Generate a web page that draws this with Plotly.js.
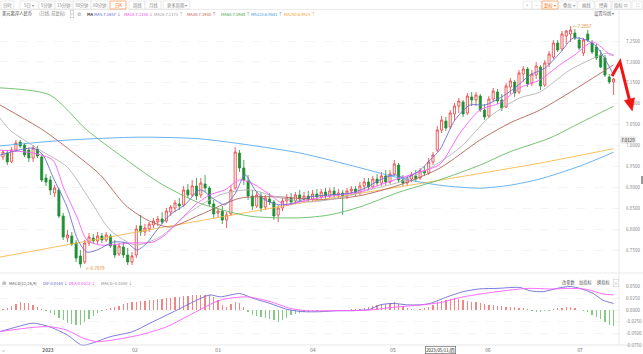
<!DOCTYPE html>
<html><head><meta charset="utf-8">
<script src="https://cdn.plot.ly/plotly-3.0.1.min.js"></script>
<style>html,body{margin:0;padding:0;background:#fff;overflow:hidden}#chart{width:643px;height:354px}</style>
</head><body><div id="chart"></div>
<script>
// ---- daily candles (USD/CNH), index 0..142 ----
const openP = [6.9725,6.9821,6.9606,6.9893,7.0084,7.0012,6.9893,6.9701,6.9917,6.9725,
6.9223,6.9175,6.8864,6.8936,6.8314,6.7787,6.7835,6.7668,6.7357,6.7213,
6.7668,6.7787,6.7716,6.7835,6.7740,6.7835,6.7620,6.7405,6.7572,6.7381,
6.7213,6.7381,6.8075,6.7931,6.8003,6.8099,6.8170,6.8242,6.8194,6.8409,
6.8505,6.8601,6.8577,6.8936,6.8816,6.9032,6.8816,6.9079,6.8984,6.8601,
6.8385,6.8433,6.8218,6.8362,6.8984,6.9821,6.9462,6.9151,6.8792,6.8553,
6.8792,6.8529,6.8720,6.8649,6.8338,6.8505,6.8673,6.8744,6.8673,6.8816,
6.8720,6.8792,6.8720,6.8840,6.8768,6.8888,6.8792,6.8912,6.8816,6.8864,
6.8792,6.8912,6.8960,6.8864,6.9032,6.9127,6.9008,6.9199,6.9103,6.9271,
6.9127,6.9318,6.9534,6.9175,6.9103,6.9199,6.9271,6.9223,6.9390,6.9342,
6.9606,6.9893,7.0371,7.0586,7.0443,7.0754,7.0945,7.1041,7.0778,7.1161,
7.1089,7.1184,7.0849,7.0706,7.1113,7.1280,7.1089,7.0921,7.1400,7.1519,
7.1280,7.1711,7.1830,7.1495,7.1687,7.1878,7.1448,7.1950,7.2117,7.2452,
7.2309,7.2620,7.2668,7.2692,7.2524,7.2213,7.2668,7.2452,7.2357,7.2165,
7.2094,7.1639,7.1519];
const highP = [6.9893,6.9893,6.9964,7.0132,7.0132,7.0060,6.9940,7.0012,6.9988,6.9773,
6.9318,6.9271,6.9056,6.8984,6.8385,6.7979,6.7931,6.7740,6.7500,6.7740,
6.7907,6.7883,6.7931,6.7907,6.7931,6.7883,6.7740,6.7668,6.7692,6.7548,
6.7452,6.8099,6.8338,6.8122,6.8170,6.8266,6.8314,6.8409,6.8505,6.8577,
6.8697,6.8744,6.9032,6.9079,6.9175,6.9223,6.9223,6.9295,6.9032,6.8697,
6.8505,6.8553,6.8409,6.9056,6.9964,6.9893,6.9654,6.9295,6.8936,6.8888,
6.8888,6.8816,6.8864,6.8697,6.8577,6.8744,6.8840,6.8864,6.8888,6.8936,
6.8888,6.8912,6.8936,6.8960,6.8960,6.8984,6.8984,6.9008,6.8960,6.8936,
6.8984,6.9032,6.9032,6.9127,6.9223,6.9223,6.9271,6.9318,6.9366,6.9414,
6.9414,6.9654,6.9582,6.9295,6.9271,6.9366,6.9414,6.9462,6.9510,6.9701,
6.9845,7.0467,7.0706,7.0682,7.0849,7.1017,7.1137,7.1089,7.1256,7.1280,
7.1280,7.1232,7.0993,7.1184,7.1376,7.1352,7.1232,7.1495,7.1615,7.1567,
7.1806,7.1902,7.1878,7.1806,7.1998,7.1926,7.2046,7.2261,7.2524,7.2524,
7.2739,7.2763,7.2857,7.2787,7.2596,7.2572,7.2763,7.2524,7.2428,7.2285,
7.2165,7.1711,7.1615];
const lowP = [6.9654,6.9534,6.9582,6.9845,6.9940,6.9725,6.9606,6.9606,6.9701,6.9127,
6.9032,6.8816,6.8768,6.8266,6.7740,6.7692,6.7596,6.7213,6.7079,6.7165,
6.7596,6.7644,6.7644,6.7668,6.7692,6.7548,6.7309,6.7357,6.7309,6.7141,
6.7141,6.7309,6.7835,6.7835,6.7931,6.8027,6.8075,6.8122,6.8146,6.8314,
6.8409,6.8457,6.8529,6.8744,6.8768,6.8697,6.8744,6.8888,6.8553,6.8266,
6.8266,6.8122,6.8027,6.8314,6.8936,6.9366,6.9056,6.8697,6.8457,6.8505,
6.8409,6.8457,6.8577,6.8218,6.8170,6.8433,6.8553,6.8577,6.8601,6.8649,
6.8625,6.8649,6.8649,6.8697,6.8697,6.8720,6.8744,6.8744,6.8720,6.8338,
6.8720,6.8816,6.8792,6.8816,6.8936,6.8936,6.8960,6.9032,6.9032,6.9056,
6.9079,6.9271,6.9103,6.9032,6.9032,6.9127,6.9127,6.9175,6.9271,6.9295,
6.9534,6.9845,7.0299,7.0347,7.0395,7.0586,7.0778,7.0682,7.0730,7.0945,
7.0945,7.0802,7.0610,7.0658,7.1041,7.0993,7.0826,7.0897,7.1232,7.1161,
7.1232,7.1519,7.1400,7.1424,7.1591,7.1328,7.1400,7.1878,7.2070,7.2237,
7.2261,7.2428,7.2476,7.2524,7.2285,7.2141,7.2476,7.2189,7.2046,7.1854,
7.1639,7.1472,7.1208];
const closeP = [6.9845,6.9606,6.9893,7.0060,6.9988,6.9773,6.9701,6.9940,6.9749,6.9175,
6.9127,6.8936,6.8984,6.8314,6.7811,6.7859,6.7644,6.7309,6.7165,6.7668,
6.7811,6.7716,6.7835,6.7740,6.7859,6.7596,6.7381,6.7596,6.7381,6.7213,
6.7357,6.8003,6.7931,6.8027,6.8122,6.8194,6.8242,6.8170,6.8433,6.8529,
6.8625,6.8553,6.8936,6.8816,6.9032,6.8792,6.9103,6.8984,6.8601,6.8362,
6.8433,6.8218,6.8338,6.8936,6.9845,6.9462,6.9175,6.8792,6.8553,6.8816,
6.8505,6.8744,6.8649,6.8314,6.8505,6.8673,6.8744,6.8649,6.8816,6.8720,
6.8792,6.8720,6.8840,6.8768,6.8888,6.8792,6.8912,6.8816,6.8864,6.8792,
6.8912,6.8960,6.8864,6.9032,6.9127,6.9008,6.9199,6.9103,6.9271,6.9127,
6.9318,6.9558,6.9175,6.9103,6.9199,6.9295,6.9199,6.9390,6.9342,6.9606,
6.9773,7.0371,7.0610,7.0419,7.0778,7.0945,7.1065,7.0754,7.1184,7.1089,
7.1208,7.0849,7.0682,7.1113,7.1304,7.1065,7.0897,7.1424,7.1543,7.1256,
7.1735,7.1830,7.1472,7.1711,7.1902,7.1424,7.1974,7.2189,7.2452,7.2285,
7.2668,7.2739,7.2763,7.2572,7.2333,7.2524,7.2524,7.2237,7.2094,7.1878,
7.1687,7.1519,7.1591];

// ---- moving averages (candle index, value) ----
const ma5X = [-0.7,7,9.3,11.6,14.9,17.4,19.5,21.9,25.6,28.8,31.2,33.5,35.8,38.8,42.3,45.8,49.3,51.6,54,56.3,58.6,60.9,64.4,67.9,71.4,76,80.7,84.2,87.7,91.2,93.5,97,99.3,101.6,105.1,108.6,112.1,115.6,119.1,122.6,126,129.5,132.6,135.8,138.1,141.2,142];
const ma5Y = [6.977,6.994,6.977,6.925,6.853,6.774,6.745,6.750,6.769,6.767,6.750,6.767,6.798,6.834,6.858,6.894,6.870,6.858,6.885,6.930,6.894,6.870,6.858,6.863,6.877,6.882,6.886,6.898,6.918,6.930,6.922,6.941,6.965,6.990,7.061,7.097,7.097,7.114,7.138,7.169,7.185,7.221,7.257,7.252,7.236,7.185,7.166];
const ma10X = [-0.7,7,11.6,14,17.2,19.5,22.6,30.2,34.9,37.7,41.2,44.7,48.1,51.6,55.1,58.6,62.1,65.6,69.1,73.7,78.4,83,87.7,92.3,97,101.6,106.3,110.9,115.6,120.2,124.9,129.5,133,137.2,141.2,142];
const ma10Y = [6.989,6.982,6.965,6.901,6.829,6.774,6.762,6.767,6.769,6.786,6.822,6.858,6.882,6.894,6.918,6.906,6.882,6.858,6.865,6.875,6.882,6.889,6.906,6.922,6.937,6.955,7.030,7.085,7.102,7.138,7.157,7.193,7.217,7.248,7.217,7.215];
const ma20X = [-0.7,1.6,8.6,14.9,20.2,24.9,30.7,36.5,43.5,50.5,57.4,64.4,71.4,78.4,85.3,92.3,99.3,106.3,113.3,120.2,124.9,131.9,140.5,142];
const ma20Y = [7.066,7.037,6.989,6.949,6.870,6.798,6.762,6.781,6.841,6.882,6.894,6.875,6.865,6.875,6.894,6.913,6.946,6.995,7.070,7.114,7.128,7.181,7.221,7.217];
const ma30X = [-0.7,9.3,15.6,22.6,28.4,33.5,38.8,45.8,55.1,64.4,73.7,83,92.3,101.6,110.9,117.9,124.9,134.2,142];
const ma30Y = [7.097,7.037,6.989,6.930,6.858,6.822,6.805,6.834,6.874,6.877,6.870,6.880,6.906,6.946,7.013,7.054,7.085,7.142,7.193];
const ma60X = [-0.7,10.9,19.5,27.2,36.5,45.8,57.4,69.1,76,83,92.3,101.6,110.9,117.9,127.2,134.2,142];
const ma60Y = [7.138,7.121,7.037,6.977,6.910,6.862,6.831,6.827,6.834,6.853,6.889,6.918,6.953,6.985,7.018,7.054,7.094];
const ma120X = [-0.7,14.9,31.9,45.8,57.4,69.1,80.7,92.3,101.6,110.9,117.9,124.9,134.2,142];
const ma120Y = [6.999,7.013,7.020,7.016,7.001,6.982,6.953,6.922,6.905,6.898,6.905,6.920,6.951,6.984];
const ma250X = [-0.7,36.5,69.1,99.3,124.9,142];
const ma250Y = [6.733,6.803,6.862,6.913,6.958,6.9925];

// ---- MACD(12,26,9) ----
const difX = [-0.7,3.2,7,10.9,14.9,18.4,20.9,24.9,30.2,34.2,40.5,43.5,48.1,50.5,55.1,58.1,62.1,66,69.8,73.7,77.7,81.4,85.3,87.7,90.7,94,97,99.3,103.3,107,110.9,114.9,120.2,122.6,125.6,128.8,131.9,134.2,137.2,139.5,142];
const difY = [-0.046,-0.036,-0.028,-0.036,-0.053,-0.075,-0.070,-0.057,-0.046,-0.028,0.000,0.014,0.032,0.028,0.035,0.025,0.014,0.0015,-0.0036,-0.0036,-0.0015,-0.0015,0.0015,0.011,0.014,0.011,0.011,0.014,0.028,0.039,0.045,0.046,0.048,0.041,0.039,0.046,0.050,0.046,0.0355,0.021,0.014];
const deaX = [-0.7,7,10.9,14.9,18.6,21.9,26.5,31.9,38.1,44.2,50.5,56.7,62.1,66.7,70.7,77.7,85.3,90.7,97,101.6,107,114.9,121.9,128,131.9,135.8,139.5,142];
const deaY = [-0.046,-0.037,-0.0356,-0.043,-0.060,-0.0675,-0.0625,-0.053,-0.0356,-0.007,0.021,0.028,0.018,0.0036,-0.0015,-0.0015,0,0.0057,0.0107,0.0156,0.028,0.039,0.046,0.0447,0.046,0.044,0.034,0.0323];
const macdHist = [0.002,0.004,0.008,0.013,0.016,0.015,0.014,0.011,0.006,0.002,
-0.002,-0.006,-0.010,-0.016,-0.022,-0.027,-0.030,-0.033,-0.031,-0.026,
-0.020,-0.013,-0.006,-0.002,0.002,0.004,0.006,0.008,0.012,0.014,
0.016,0.018,0.019,0.020,0.021,0.022,0.023,0.024,0.025,0.026,
0.027,0.028,0.029,0.030,0.031,0.032,0.032,0.033,0.031,0.028,
0.022,0.010,0.007,0.012,0.016,0.014,0.006,-0.004,-0.010,-0.013,
-0.015,-0.017,-0.019,-0.022,-0.025,-0.022,-0.016,-0.011,-0.008,-0.006,
-0.005,-0.004,-0.003,-0.002,-0.001,0.001,-0.001,0.001,0.001,-0.002,
0.001,0.002,0.002,0.003,0.004,0.006,0.008,0.010,0.012,0.013,
0.014,0.016,0.012,0.008,0.004,0.002,0.001,0.002,0.004,0.006,
0.010,0.016,0.020,0.022,0.024,0.025,0.024,0.022,0.020,0.018,
0.016,0.014,0.012,0.011,0.010,0.009,0.008,0.007,0.006,0.006,
0.005,0.004,0.003,-0.003,-0.005,-0.004,-0.003,-0.002,0.002,0.004,
0.005,0.006,0.006,0.004,0.001,-0.002,-0.005,-0.010,-0.015,-0.020,
-0.026,-0.031,-0.035];

// ---- axis labels ----
const xTickPos = [10.47,30.7,50,72.1,90.7,112.8,134.2];
const xTickText = ['<b>2023</b>','02','03','04','05','06','07'];
const priceTicks = [6.75,6.80,6.85,6.90,6.95,7.00,7.05,7.10,7.15,7.20,7.25];
const macdTicks = [-0.075,-0.05,-0.025,0,0.025,0.05];

const W=643,H=354;
const PX = x=>x/W, PY = y=>(H-y)/H;
const idx = openP.map((_,i)=>i);
const FONT = 'Noto Sans CJK SC, Noto Sans, sans-serif';

function maTrace(x,y,color){return {type:'scatter',mode:'lines',x:x,y:y,xaxis:'x',yaxis:'y',line:{color:color,width:0.9,shape:'spline',smoothing:0.7},hoverinfo:'skip'};}

const traces = [
 {type:'candlestick',x:idx,open:openP,high:highP,low:lowP,close:closeP,xaxis:'x',yaxis:'y',
  increasing:{line:{color:'#ec3a3a',width:0.8},fillcolor:'#ffffff'},
  decreasing:{line:{color:'#1f8f34',width:0.8},fillcolor:'#1f8f34'},
  whiskerwidth:0,hoverinfo:'skip'},
 maTrace(ma250X,ma250Y,'#f6b94a'),
 maTrace(ma120X,ma120Y,'#5aaaf0'),
 maTrace(ma60X,ma60Y,'#66bb66'),
 maTrace(ma30X,ma30Y,'#b5615a'),
 maTrace(ma20X,ma20Y,'#b4b4b4'),
 maTrace(ma10X,ma10Y,'#ff5cff'),
 maTrace(ma5X,ma5Y,'#6d6dd6'),
 {type:'bar',x:idx,y:macdHist,xaxis:'x2',yaxis:'y2',width:0.3,
  marker:{color:macdHist.map(v=>v>=0?'#f08585':'#86c986'),line:{width:0}},hoverinfo:'skip'},
 {type:'scatter',mode:'lines',x:difX,y:difY,xaxis:'x2',yaxis:'y2',line:{color:'#6d6dd6',width:0.9,shape:'spline',smoothing:0.7},hoverinfo:'skip'},
 {type:'scatter',mode:'lines',x:deaX,y:deaY,xaxis:'x2',yaxis:'y2',line:{color:'#ff5cff',width:0.9,shape:'spline',smoothing:0.7},hoverinfo:'skip'}
];

const shapes = [];
const annotations = [];
function line(x0,y0,x1,y1,color,w,dash){shapes.push({type:'line',xref:'paper',yref:'paper',x0:PX(x0),y0:PY(y0),x1:PX(x1),y1:PY(y1),line:{color:color,width:w||0.7,dash:dash||'solid'}});}
function rect(x0,y0,x1,y1,stroke,fill,w){shapes.push({type:'rect',xref:'paper',yref:'paper',x0:PX(x0),y0:PY(y1),x1:PX(x1),y1:PY(y0),line:{color:stroke,width:w===undefined?0.6:w},fillcolor:fill||'rgba(0,0,0,0)'});}
function txt(x,y,text,color,size,anchor,extra){annotations.push(Object.assign({xref:'paper',yref:'paper',x:PX(x),y:PY(y),text:text,showarrow:false,xanchor:anchor||'left',yanchor:'middle',borderpad:0,font:{family:FONT,size:size||4.5,color:color||'#333'}},extra||{}));}

// frame lines
line(0,9.5,643,9.5,'#e3e3e3',0.7);
line(619,9.5,619,345,'#e3e3e3',0.7);
line(0,273,643,273,'#e3e3e3',0.7);
line(0,345,643,345,'#dddddd',0.7);
rect(641,176,643,184,'#999','#999',0);

// toolbar
const leftBtns = [['分时',1,14],['5日 ▾',20,38],['5分钟',39,55],['15分钟',55,73],['30分钟',73,91],['60分钟',91,108],['日K',110,126],['周线',129,145],['月线',145,161],['更多周期 ▾',163,190]];
leftBtns.forEach(b=>{const act=b[0]==='日K';rect(b[1],1,b[2],9,act?'#ff7f2a':'#dedede','#ffffff',0.6);txt((b[1]+b[2])/2,5,b[0],act?'#ff6a00':'#888',4.3,'center');});
const rightBtns = [['+',523,532],['−',532,541],['复权 ▾',542,558],['叠加 ▾',560,577],['画线',578,594],['经典',595,611],['指标 ⇔',612,631],['⛶',632,642]];
rightBtns.forEach(b=>{const act=b[0].indexOf('复权')===0;rect(b[1],1,b[2],9,act?'#ff7f2a':'#dedede','#ffffff',0.6);txt((b[1]+b[2])/2,5,b[0],act?'#ff6a00':'#888',4.3,'center');});

// legend row
txt(0.5,14,'美元离岸人民币','#333',4.3);
txt(38,14,'(日线, 前复权)','#888',4.3);
txt(72,14,'?','#999',4,'center',{bordercolor:'#bbb',borderwidth:0.5,borderpad:0.3});
txt(79.5,14,'⚙','#999',4.5,'center');
txt(86,14,'<b>MA</b>','#333',4);
const maLeg = [['MA5:7.1657','↓',93,'#5a5ad6'],['MA10:7.2150','↓',123,'#e83ee8'],['MA20:7.2173','↑',153,'#999999'],['MA30:7.1930','↑',186,'#c0504a'],['MA60:7.0944','↑',220,'#3da33d'],['MA120:6.9841','↑',250,'#3a8ee0'],['MA250:6.9925','↑',283,'#f0a020']];
maLeg.forEach(m=>{txt(m[2],14,m[0]+' '+m[1],m[3],4.1);});
txt(615,13.5,'设置均线 ▾','#666',4.3,'right');

// MACD legend row
txt(1,283,'⊞','#888',4.5);
txt(8,283,'MACD(12,26,9)','#555',4.1);
txt(42,283,'DIF:0.0140 ↓','#5a5ad6',4.1);
txt(68,283,'DEA:0.0323 ↓','#e83ee8',4.1);
txt(100,283,'MACD:-0.0350 ↓','#888',4.1);
txt(561,282.5,'改参数','#555',4.2);
txt(578,282.5,'加指标','#555',4.2);
txt(596,282.5,'换指标','#555',4.2);
txt(616,282.5,'×','#999',4.2,'center',{bordercolor:'#ccc',borderwidth:0.5,borderpad:0.3});

// bottom axis extras
txt(3,350,'<','#999',5,'center');
txt(440.5,349.5,'2023/05/11/四','#222',4.3,'center',{bgcolor:'#ffffff',bordercolor:'#555',borderwidth:0.6,borderpad:0.6});
// current price tag
annotations.push({xref:'paper',yref:'y',x:PX(620),y:7.0135,text:'7.0129',showarrow:false,xanchor:'left',yanchor:'middle',bgcolor:'#e4e4e4',borderpad:0.2,font:{family:FONT,size:4.4,color:'#333'}});
// extreme labels
annotations.push({xref:'x',yref:'y',x:132.2,y:7.2857,text:'←7.2857',showarrow:false,xanchor:'left',yanchor:'middle',font:{family:FONT,size:4.6,color:'#e0851e'}});
annotations.push({xref:'x',yref:'y',x:18.8,y:6.7079,text:'←6.7079',showarrow:false,xanchor:'left',yanchor:'middle',font:{family:FONT,size:4.6,color:'#e0851e'}});

// red hand-drawn arrow
shapes.push({type:'path',xref:'paper',yref:'paper',path:'M '+PX(612)+','+PY(76)+' L '+PX(620)+','+PY(62)+' L '+PX(629.3)+','+PY(99.3),line:{color:'#f01414',width:3},fillcolor:'rgba(0,0,0,0)'});
shapes.push({type:'path',xref:'paper',yref:'paper',path:'M '+PX(632.3)+','+PY(111)+' L '+PX(634.6)+','+PY(97.8)+' L '+PX(624.3)+','+PY(100.4)+' Z',line:{color:'#f01414',width:0.5},fillcolor:'#f01414'});

const xRange=[-0.698,143.26];
const layout = {
 width:W,height:H,margin:{l:0,r:0,t:0,b:0},paper_bgcolor:'#ffffff',plot_bgcolor:'#ffffff',showlegend:false,
 font:{family:FONT,size:5,color:'#333'},bargap:0,
 xaxis:{domain:[0,619/W],range:xRange,anchor:'y',showticklabels:false,showgrid:false,zeroline:false,showline:false,ticks:'',rangeslider:{visible:false},fixedrange:true},
 yaxis:{domain:[PY(272),PY(20)],range:[6.6974,7.3003],side:'right',anchor:'x',tickvals:priceTicks,ticktext:priceTicks.map(v=>v.toFixed(4)),
   tickfont:{family:FONT,size:4.6,color:'#8a8a8a'},ticks:'',ticklabelstandoff:6,showgrid:true,gridcolor:'#ececec',griddash:'dash',gridwidth:0.6,zeroline:false,showline:false,fixedrange:true},
 xaxis2:{domain:[0,619/W],range:xRange,anchor:'y2',tickvals:xTickPos,ticktext:xTickText,tickfont:{family:FONT,size:4.8,color:'#666'},ticks:'',ticklabelstandoff:0,showgrid:false,zeroline:false,showline:false,fixedrange:true},
 yaxis2:{domain:[PY(346),PY(284)],range:[-0.0767,0.0554],side:'right',anchor:'x2',tickvals:macdTicks,ticktext:macdTicks.map(v=>v.toFixed(4)),
   tickfont:{family:FONT,size:4.6,color:'#8a8a8a'},ticks:'',ticklabelstandoff:6,showgrid:true,gridcolor:'#ececec',griddash:'dash',gridwidth:0.6,zeroline:false,showline:false,fixedrange:true},
 shapes:shapes,annotations:annotations
};
Plotly.newPlot('chart',traces,layout,{displayModeBar:false,staticPlot:true});
</script></body></html>
